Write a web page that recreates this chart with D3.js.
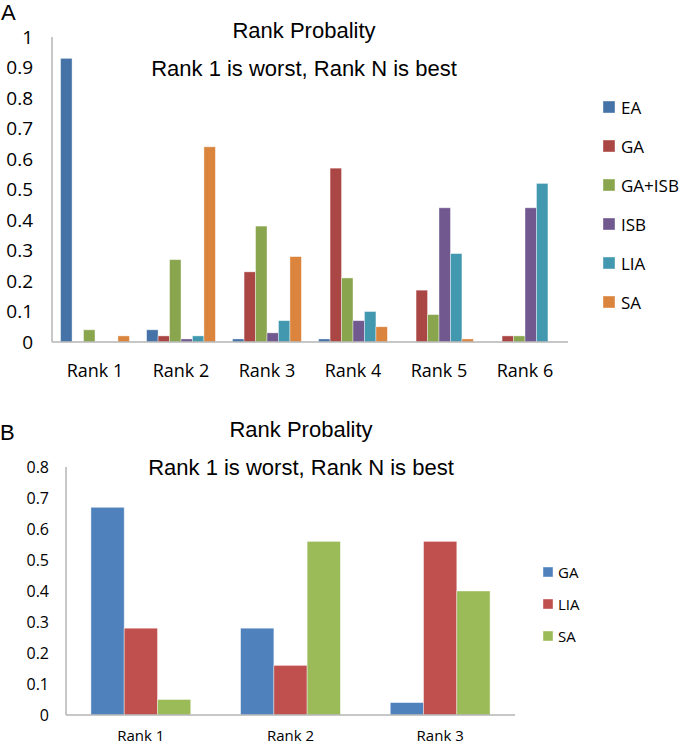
<!DOCTYPE html>
<html>
<head>
<meta charset="utf-8">
<script src="https://cdn.jsdelivr.net/npm/d3@7"></script>
<style>
  html, body { margin: 0; padding: 0; background: #fff; }
  svg { display: block; }
</style>
</head>
<body>
<svg id="chart" width="685" height="745"></svg>
<script>
// ---------- Panel A data ----------
const categoriesA = ["Rank 1", "Rank 2", "Rank 3", "Rank 4", "Rank 5", "Rank 6"];
const seriesNamesA = ["EA", "GA", "GA+ISB", "ISB", "LIA", "SA"];
const EA_A     = [0.93, 0.04, 0.01, 0.01, 0.00, 0.00];
const GA_A     = [0.00, 0.02, 0.23, 0.57, 0.17, 0.02];
const GAISB_A  = [0.04, 0.27, 0.38, 0.21, 0.09, 0.02];
const ISB_A    = [0.00, 0.01, 0.03, 0.07, 0.44, 0.44];
const LIA_A    = [0.00, 0.02, 0.07, 0.10, 0.29, 0.52];
const SA_A     = [0.02, 0.64, 0.28, 0.05, 0.01, 0.00];
const ticksA   = [0, 0.1, 0.2, 0.3, 0.4, 0.5, 0.6, 0.7, 0.8, 0.9, 1];
const tickLabelsA = ["0", "0.1", "0.2", "0.3", "0.4", "0.5", "0.6", "0.7", "0.8", "0.9", "1"];

// ---------- Panel B data ----------
const categoriesB = ["Rank 1", "Rank 2", "Rank 3"];
const seriesNamesB = ["GA", "LIA", "SA"];
const GA_B  = [0.67, 0.28, 0.04];
const LIA_B = [0.28, 0.16, 0.56];
const SA_B  = [0.05, 0.56, 0.40];
const ticksB = [0, 0.1, 0.2, 0.3, 0.4, 0.5, 0.6, 0.7, 0.8];
const tickLabelsB = ["0", "0.1", "0.2", "0.3", "0.4", "0.5", "0.6", "0.7", "0.8"];

const titleText = "Rank Probality";
const subtitleText = "Rank 1 is worst, Rank N is best";

const colorsA = ["#4572A7", "#AA4643", "#89A54E", "#71588F", "#4198AF", "#DB843D"];
const colorsB = ["#4F81BD", "#C0504D", "#9BBB59"];

const svg = d3.select("#chart");
const tickFont = "'Open Sans', 'Noto Sans', sans-serif";
const titleFont = "'Liberation Sans', Arial, sans-serif";

function drawPanel(cfg) {
  const g = svg.append("g");
  const x0 = d3.scaleBand().domain(cfg.categories).range([cfg.left, cfg.right]).padding(0);
  const x1 = d3.scaleBand().domain(cfg.series).range([0, x0.bandwidth()])
    .paddingInner(0).paddingOuter(0.75);
  const y = d3.scaleLinear().domain([0, cfg.ymax]).range([cfg.bottom, cfg.top]);
  const color = d3.scaleOrdinal().domain(cfg.series).range(cfg.colors);

  // panel letter
  g.append("text").attr("x", cfg.letterX).attr("y", cfg.letterY)
    .attr("font-family", titleFont).attr("font-size", 22).attr("fill", "#000")
    .text(cfg.letter);

  // titles
  g.append("text").attr("x", cfg.titleX).attr("y", cfg.titleY)
    .attr("text-anchor", "middle").attr("font-family", titleFont)
    .attr("font-size", 22).attr("fill", "#000").text(titleText);
  g.append("text").attr("x", cfg.titleX).attr("y", cfg.subY)
    .attr("text-anchor", "middle").attr("font-family", titleFont)
    .attr("font-size", 22).attr("fill", "#000").text(subtitleText);

  // bars
  const groups = g.append("g").selectAll("g").data(cfg.categories).join("g")
    .attr("transform", d => `translate(${x0(d)},0)`);
  groups.selectAll("rect")
    .data((d, i) => cfg.series.map((s, j) => ({ s, v: cfg.values[j][i] })))
    .join("rect")
    .filter(d => d.v > 0)
    .attr("x", d => x1(d.s))
    .attr("width", x1.bandwidth())
    .attr("y", d => y(d.v))
    .attr("height", d => y(0) - y(d.v))
    .attr("fill", d => color(d.s))
    .attr("stroke", "#ffffff")
    .attr("stroke-opacity", 0.5)
    .attr("stroke-width", 0.8);

  // y axis (labels only)
  const yAxis = d3.axisLeft(y).tickValues(cfg.ticks)
    .tickFormat((d, i) => cfg.tickLabels[i]).tickSize(0).tickPadding(0);
  const ya = g.append("g").attr("transform", `translate(${cfg.tickRight},0)`).call(yAxis);
  ya.select(".domain").remove();
  ya.selectAll("text").attr("font-family", tickFont).attr("font-size", cfg.tickSize)
    .attr("fill", "#000").attr("dx", 0);

  // x axis labels
  const xAxis = d3.axisBottom(x0).tickSize(0).tickPadding(0);
  const xa = g.append("g").attr("transform", `translate(0,${cfg.xLabelY})`).call(xAxis);
  xa.select(".domain").remove();
  xa.selectAll("text").attr("font-family", tickFont).attr("font-size", cfg.xLabelSize)
    .attr("fill", "#000").attr("dy", 0);

  // axis lines
  g.append("line").attr("x1", cfg.left).attr("x2", cfg.left)
    .attr("y1", y(cfg.ymax)).attr("y2", cfg.bottom)
    .attr("stroke", "#b4b4b4").attr("stroke-width", 1.5);
  g.append("line").attr("x1", cfg.left).attr("x2", cfg.right)
    .attr("y1", cfg.bottom).attr("y2", cfg.bottom)
    .attr("stroke", "#b4b4b4").attr("stroke-width", 1.5);

  // legend
  const lg = g.append("g").selectAll("g").data(cfg.series).join("g")
    .attr("transform", (d, i) => `translate(${cfg.legX},${cfg.legY + i * cfg.legStep})`);
  lg.append("rect").attr("x", 0).attr("y", -cfg.legSq / 2)
    .attr("width", cfg.legSq).attr("height", cfg.legSq)
    .attr("fill", d => color(d)).attr("stroke", "#fff").attr("stroke-opacity", 0.5).attr("stroke-width", 0.8);
  lg.append("text").attr("x", cfg.legSq + cfg.legGap).attr("y", 0)
    .attr("dominant-baseline", "central")
    .attr("font-family", tickFont).attr("font-size", cfg.legFont).attr("fill", "#000")
    .text(d => d);
}

drawPanel({
  letter: "A", letterX: 1, letterY: 20,
  titleX: 304, titleY: 38, subY: 76,
  categories: categoriesA, series: seriesNamesA,
  values: [EA_A, GA_A, GAISB_A, ISB_A, LIA_A, SA_A],
  colors: colorsA,
  left: 52, right: 568, top: 37, bottom: 342, ymax: 1,
  ticks: ticksA, tickLabels: tickLabelsA, tickRight: 33, tickSize: 19,
  xLabelY: 377, xLabelSize: 18,
  legX: 603, legY: 107, legStep: 39, legSq: 12, legGap: 6, legFont: 17
});

drawPanel({
  letter: "B", letterX: 0, letterY: 440,
  titleX: 301, titleY: 437, subY: 475,
  categories: categoriesB, series: seriesNamesB,
  values: [GA_B, LIA_B, SA_B],
  colors: colorsB,
  left: 66, right: 515, top: 467, bottom: 715, ymax: 0.8,
  ticks: ticksB, tickLabels: tickLabelsB, tickRight: 49, tickSize: 16,
  xLabelY: 741, xLabelSize: 15,
  legX: 543, legY: 572, legStep: 32, legSq: 10, legGap: 5, legFont: 15
});
</script>
</body>
</html>
